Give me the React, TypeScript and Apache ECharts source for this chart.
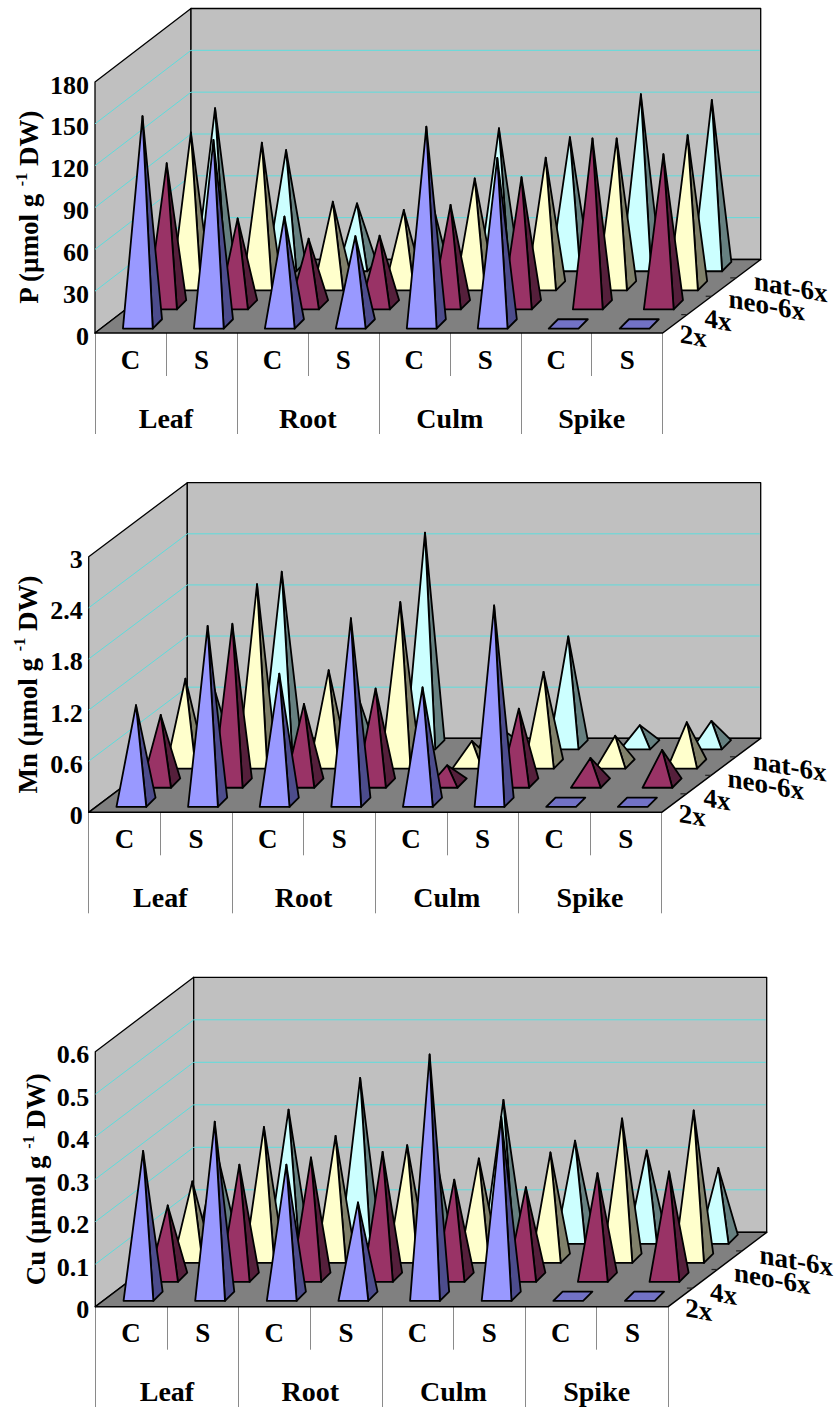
import React, { useEffect, useRef } from "react";
import * as echarts from "echarts";

const tissues = ["Leaf", "Root", "Culm", "Spike"];
const treatments = ["C", "S", "C", "S", "C", "S", "C", "S"];
const ploidy = ["2x", "4x", "neo-6x", "nat-6x"];

const P_2x = [149, 132, 77, 63, 141.5, 119, 0, 0];
const P_4x = [101.5, 62, 47.4, 49.6, 71.6, 91.5, 119.4, 108];
const P_neo6x = [110, 102.6, 60.3, 54.3, 77, 91.8, 105.7, 108];
const P_nat6x = [113.6, 83.6, 45.4, 58, 99.2, 92.8, 123.6, 119.5];
const P_ticks = [0, 30, 60, 90, 120, 150, 180];

const Mn_2x = [1.14, 2.07, 1.51, 2.16, 1.35, 2.31, 0, 0];
const Mn_4x = [0.8, 1.87, 0.93, 1.11, 0.21, 0.875, 0.295, 0.39];
const Mn_neo6x = [1.0, 2.11, 1.1, 1.9, 0.27, 1.08, 0.33, 0.49];
const Mn_nat6x = [0.82, 2.03, 0.73, 2.49, 0.24, 1.27, 0.23, 0.28];
const Mn_ticks = [0, 0.6, 1.2, 1.8, 2.4, 3];

const Cu_2x = [0.342, 0.411, 0.31, 0.221, 0.569, 0.423, 0, 0];
const Cu_4x = [0.169, 0.265, 0.282, 0.295, 0.23, 0.212, 0.245, 0.249];
const Cu_neo6x = [0.181, 0.309, 0.288, 0.266, 0.235, 0.249, 0.329, 0.348];
const Cu_nat6x = [0.205, 0.305, 0.38, 0.243, 0.328, 0.232, 0.209, 0.168];
const Cu_ticks = [0, 0.1, 0.2, 0.3, 0.4, 0.5, 0.6];

const FONT = '"Liberation Serif"';
const rowStyles = [
  { front: "#9999FF", side: "#4C4C8C", flat: "#7272C6" },
  { front: "#993366", side: "#551F3B", flat: "#993366" },
  { front: "#FFFFCC", side: "#80806A", flat: "#FFFFCC" },
  { front: "#CCFFFF", side: "#668080", flat: "#CCFFFF" },
];

const panels = [
  {
    name: "P", rows: [P_2x, P_4x, P_neo6x, P_nat6x], ticks: P_ticks,
    left: 95, top: 82, width: 567.7, height: 251, backL: 96, backR: 98, backY: 73.5,
    dx0: 12, dxStep: 24.2, dy0: 9.1, dyStep: 19.1, nameGap: 50,
  },
  {
    name: "Mn", rows: [Mn_2x, Mn_4x, Mn_neo6x, Mn_nat6x], ticks: Mn_ticks,
    left: 88.7, top: 556.7, width: 573, height: 255.6, backL: 98.6, backR: 99, backY: 74,
    dx0: 11.5, dxStep: 24.7, dy0: 10, dyStep: 19.2, nameGap: 45,
  },
  {
    name: "Cu", rows: [Cu_2x, Cu_4x, Cu_neo6x, Cu_nat6x], ticks: Cu_ticks,
    left: 95.3, top: 1051.7, width: 573, height: 255, backL: 98.4, backR: 98.4, backY: 74.4,
    dx0: 12, dxStep: 24.6, dy0: 10.4, dyStep: 19, nameGap: 43,
  },
];

const depthLabelOffsets = [
  [30.5, 3],
  [55.3, -13],
  [104, -28],
  [128, -46],
];

function wallRender(p: any) {
  return (params: any, api: any) => {
    const cs = params.coordSys;
    const x0 = cs.x;
    const x1 = cs.x + cs.width;
    const yAt = (v: number) => api.coord([0, v])[1];
    const top = cs.y;
    const bot = cs.y + cs.height;
    const wallStyle = { fill: "#C0C0C0", stroke: "#000", lineWidth: 1.3, lineJoin: "round" };
    const children: any[] = [
      { type: "polygon", shape: { points: [[x0, top], [x0 + p.backL, top - p.backY], [x0 + p.backL, bot - p.backY], [x0, bot]] }, style: wallStyle },
      { type: "polygon", shape: { points: [[x0 + p.backL, top - p.backY], [x1 + p.backR, top - p.backY], [x1 + p.backR, bot - p.backY], [x0 + p.backL, bot - p.backY]] }, style: wallStyle },
    ];
    p.ticks.slice(1, -1).forEach((t: number) => {
      const y = yAt(t);
      children.push({
        type: "polyline",
        shape: { points: [[x0, y], [x0 + p.backL, y - p.backY], [x1 + p.backR - 1, y - p.backY]] },
        style: { stroke: "#5EDCDC", lineWidth: 1, fill: "none" },
      });
    });
    children.push({
      type: "polygon",
      shape: { points: [[x0, bot], [x1, bot], [x1 + p.backR, bot - p.backY], [x0 + p.backL, bot - p.backY]] },
      style: { fill: "#808080", stroke: "#000", lineWidth: 1.5, lineJoin: "round" },
    });
    [0.25, 0.5, 0.75].forEach((f) => {
      const ex = x1 + p.backR * f;
      const ey = bot - p.backY * f;
      children.push({
        type: "line",
        shape: { x1: ex - 6, y1: ey, x2: ex, y2: ey },
        style: { stroke: "#222", lineWidth: 1.2 },
      });
    });
    ploidy.forEach((label, i) => {
      children.push({
        type: "text",
        x: x1 + depthLabelOffsets[i][0],
        y: bot + depthLabelOffsets[i][1],
        skewY: -0.17,
        style: {
          text: label, fill: "#000", fontFamily: FONT, fontWeight: "bold", fontSize: 27,
          align: "center", verticalAlign: "middle",
        },
      });
    });
    return { type: "group", children };
  };
}

function pyramidRender(p: any, r: number) {
  const st = rowStyles[r];
  const hw = 14.9;
  const hd = 4.65;
  return (_params: any, api: any) => {
    const i = api.value(0);
    const v = api.value(1);
    const base = api.coord([i, 0]);
    const peak = api.coord([i, v]);
    const offX = p.dx0 + r * p.dxStep;
    const offY = p.dy0 + r * p.dyStep;
    const cx = base[0] + offX;
    const cy = base[1] - offY;
    const tipY = peak[1] - offY;
    const fl = [cx - hd - hw, cy + hd];
    const fr = [cx - hd + hw, cy + hd];
    const br = [cx + hd + hw, cy - hd];
    const bl = [cx + hd - hw, cy - hd];
    const line = { stroke: "#000", lineWidth: 1.8, lineJoin: "round" };
    if (v === 0) {
      return {
        type: "polygon",
        shape: { points: [fl, fr, br, bl] },
        style: { fill: st.flat, ...line },
      };
    }
    return {
      type: "group",
      children: [
        { type: "polygon", shape: { points: [fr, br, [cx, tipY]] }, style: { fill: st.side, ...line } },
        { type: "polygon", shape: { points: [fl, fr, [cx, tipY]] }, style: { fill: st.front, ...line } },
      ],
    };
  };
}

function buildOption() {
  const grid: any[] = [];
  const xAxis: any[] = [];
  const yAxis: any[] = [];
  const series: any[] = [];
  panels.forEach((p, k) => {
    grid.push({ left: p.left, top: p.top, width: p.width, height: p.height, containLabel: false, outerBoundsMode: "none" });
    const labelFont = { fontFamily: FONT, fontWeight: "bold", color: "#000" };
    xAxis.push({
      type: "category", gridIndex: k, data: treatments, position: "bottom",
      axisLine: { show: false },
      axisTick: { show: true, length: 43, lineStyle: { color: "#8a8a8a", width: 1 }, alignWithLabel: false },
      axisLabel: { ...labelFont, fontSize: 27, margin: 13, interval: 0 },
      splitLine: { show: false },
    });
    xAxis.push({
      type: "category", gridIndex: k, data: tissues, position: "bottom",
      axisLine: { show: false },
      axisTick: { show: true, length: 101, lineStyle: { color: "#8a8a8a", width: 1 }, alignWithLabel: false },
      axisLabel: { ...labelFont, fontSize: 28, margin: 71, interval: 0 },
      splitLine: { show: false },
    });
    const maxV = p.ticks[p.ticks.length - 1];
    yAxis.push({
      type: "value", gridIndex: k, min: 0, max: maxV, interval: p.ticks[1],
      axisLine: { show: false }, axisTick: { show: false }, splitLine: { show: false },
      axisLabel: { ...labelFont, fontSize: 26, margin: 6, verticalAlign: "top", lineHeight: 6 },
      name: `{a|${p.name} (µmol g }{s|-1}{a| DW)}`,
      nameLocation: "middle", nameRotate: 90, nameGap: p.nameGap, nameMoveOverlap: false,
      nameTextStyle: {
        rich: {
          a: { fontFamily: FONT, fontWeight: "bold", fontSize: 27, color: "#000", lineHeight: 32 },
          s: { fontFamily: FONT, fontWeight: "bold", fontSize: 16, color: "#000", lineHeight: 32, verticalAlign: "top" },
        },
      },
    });
    const xIdx = k * 2;
    series.push({
      type: "custom", coordinateSystem: "cartesian2d", xAxisIndex: xIdx, yAxisIndex: k,
      data: [[0, 0]], renderItem: wallRender(p), silent: true, z: 1,
    });
    [3, 2, 1, 0].forEach((r) => {
      series.push({
        type: "custom", name: ploidy[r], coordinateSystem: "cartesian2d", xAxisIndex: xIdx, yAxisIndex: k,
        data: p.rows[r].map((v, i) => [i, v]), renderItem: pyramidRender(p, r), silent: true, z: 5 - r,
        encode: { x: 0, y: 1 },
      });
    });
  });
  return { animation: false, backgroundColor: "#fff", grid, xAxis, yAxis, series };
}

export default function App() {
  const ref = useRef<HTMLDivElement>(null);
  useEffect(() => {
    document.body.style.margin = "0";
    const chart = echarts.init(ref.current!, undefined, { renderer: "svg" });
    chart.setOption(buildOption() as any);
    return () => chart.dispose();
  }, []);
  return <div ref={ref} style={{ width: 837, height: 1407 }} />;
}
